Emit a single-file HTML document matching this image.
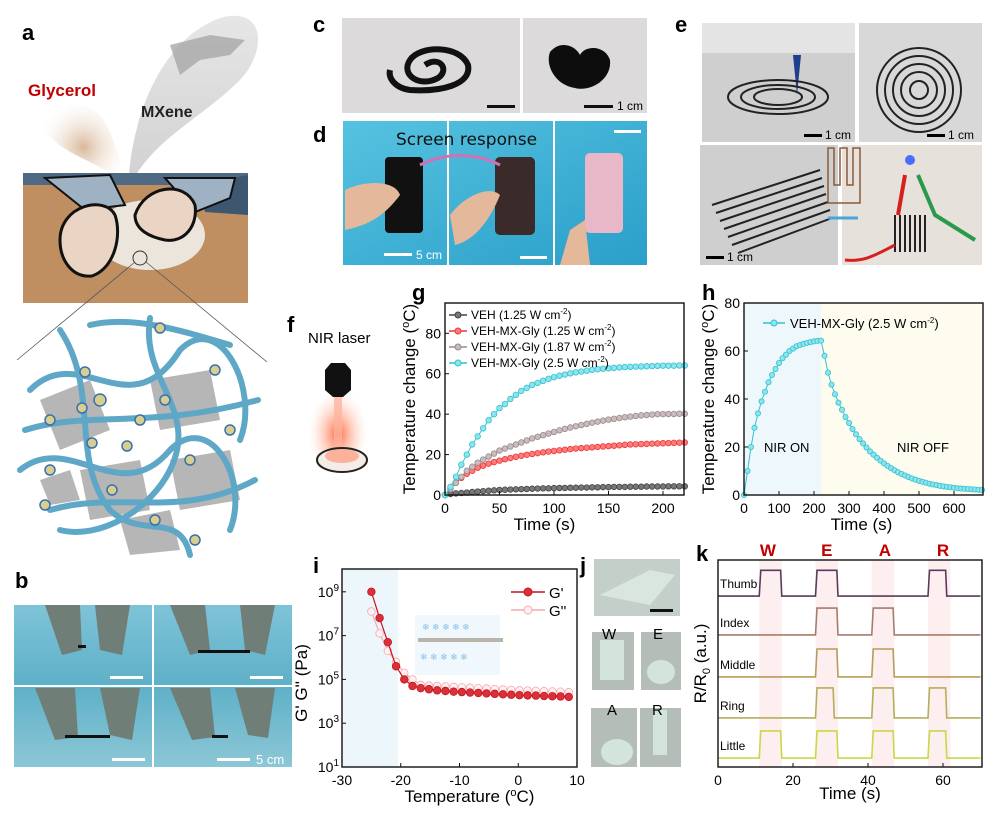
<!DOCTYPE html>
<html><head><meta charset="utf-8"><style>
body{margin:0;background:#fff;}
svg{display:block;font-family:"Liberation Sans",Arial,sans-serif;}
.lbl{font-weight:bold;font-size:22px;}
.tick{font-size:14px;}
.title{font-size:17px;}
</style></head><body>
<svg id="fig" width="1000" height="814" viewBox="0 0 1000 814" xmlns="http://www.w3.org/2000/svg">
<defs>
<radialGradient id="glyG" cx="0.5" cy="0.5" r="0.6"><stop offset="0" stop-color="#d9b89a"/><stop offset="1" stop-color="#fff" stop-opacity="0"/></radialGradient>
<linearGradient id="mxG" x1="0" y1="0" x2="0" y2="1"><stop offset="0" stop-color="#e6e6e6"/><stop offset="1" stop-color="#d0d0d0"/></linearGradient>
<linearGradient id="water" x1="0" y1="0" x2="0" y2="1"><stop offset="0" stop-color="#7fc3d8"/><stop offset="0.5" stop-color="#5eb0c8"/><stop offset="1" stop-color="#8cc7d6"/></linearGradient>
<linearGradient id="blueBg" x1="0" y1="0" x2="1" y2="1"><stop offset="0" stop-color="#56c2e0"/><stop offset="1" stop-color="#2a9fc9"/></linearGradient>
<radialGradient id="laser" cx="0.5" cy="0.6" r="0.5"><stop offset="0" stop-color="#ff6a3d"/><stop offset="1" stop-color="#ffe3d6" stop-opacity="0"/></radialGradient>
</defs>

<!-- Panel a -->
<g>
<text class="lbl" x="22" y="40">a</text>
<path d="M128 190 C130 120 160 40 220 18 C265 5 268 50 240 80 C200 120 150 140 128 190Z" fill="url(#mxG)"/>
<path d="M125 190 C110 160 60 160 42 125 C38 105 80 95 100 115 C115 135 122 165 125 190Z" fill="url(#glyG)"/>
<path d="M170 45 L210 35 L245 40 L230 55 L200 60 L180 75 Z" fill="#a7a7a7" opacity="0.8"/>
<text x="28" y="96" font-size="17" font-weight="bold" fill="#c00000">Glycerol</text>
<text x="141" y="117" font-size="16" font-weight="bold" fill="#222">MXene</text>
<rect x="23" y="173" width="225" height="130" fill="#bf8f62"/>
<rect x="23" y="173" width="225" height="12" fill="#506a86"/>
<path d="M200 185 L248 175 L248 215 L205 212 Z" fill="#3f5670"/>
<ellipse cx="150" cy="235" rx="55" ry="35" fill="#ece5dc"/>
<path d="M45 178 L110 175 L125 205 L85 210 Z" fill="#9fb2c4" stroke="#111" stroke-width="2"/>
<path d="M165 178 L235 178 L230 198 L195 212 Z" fill="#9fb2c4" stroke="#111" stroke-width="2"/>
<path d="M60 240 C60 205 105 195 115 215 C122 235 115 268 92 276 C72 278 60 260 60 240Z" fill="#ead4c4" stroke="#111" stroke-width="3"/>
<path d="M135 215 C145 185 185 180 195 205 C198 225 185 243 165 240 C150 237 135 230 135 215Z" fill="#ead4c4" stroke="#111" stroke-width="3"/>
<circle cx="140" cy="258" r="7" fill="none" stroke="#333"/>
<line x1="135" y1="262" x2="17" y2="360" stroke="#555" stroke-width="0.8"/>
<line x1="146" y1="262" x2="267" y2="362" stroke="#555" stroke-width="0.8"/>
<g fill="none">
<path d="M40 400 L90 380 L110 430 L60 450Z M150 380 L210 370 L220 420 L160 430Z M80 470 L140 460 L150 510 L90 520Z M170 460 L230 450 L240 500 L180 510Z M120 520 L170 510 L180 550 L130 555Z M40 480 L70 470 L80 500 L50 505Z" fill="#a9a9a9" opacity="0.85"/>
<g stroke="#5fa7c7" stroke-width="6" stroke-linecap="round">
<path d="M30 390 C80 340 130 430 180 350 C220 310 260 390 240 440"/>
<path d="M20 470 C70 430 120 510 170 450 C210 410 250 480 230 530"/>
<path d="M60 330 C100 390 70 460 110 510 C140 540 180 510 190 555"/>
<path d="M150 318 C140 380 200 410 170 470 C150 510 100 540 60 530"/>
<path d="M25 430 C90 410 150 430 258 400"/>
<path d="M50 510 C120 490 180 520 255 480"/>
<path d="M90 325 C130 315 180 330 230 345"/>
</g>
<g fill="#d8cf8f" stroke="#3a6fb0" stroke-width="1.5">
<circle cx="50" cy="420" r="5"/><circle cx="85" cy="372" r="5"/><circle cx="100" cy="400" r="6"/><circle cx="160" cy="328" r="5"/><circle cx="215" cy="370" r="5"/><circle cx="82" cy="408" r="5"/><circle cx="165" cy="400" r="5"/><circle cx="140" cy="420" r="5"/><circle cx="230" cy="430" r="5"/><circle cx="92" cy="443" r="5"/><circle cx="50" cy="470" r="5"/><circle cx="127" cy="446" r="5"/><circle cx="190" cy="460" r="5"/><circle cx="112" cy="490" r="5"/><circle cx="155" cy="520" r="5"/><circle cx="45" cy="505" r="5"/><circle cx="195" cy="540" r="5"/></g>
</g>
</g>

<!-- Panel b -->
<g>
<text class="lbl" x="15" y="588">b</text>
<rect x="14" y="605" width="278" height="162" fill="url(#water)"/>
<line x1="14" y1="686" x2="292" y2="686" stroke="#fff" stroke-width="2"/>
<line x1="153" y1="605" x2="153" y2="767" stroke="#fff" stroke-width="2"/>
<g fill="#6f7f78"><path d="M45 605 L80 605 L82 650 L62 655Z"/><path d="M95 605 L130 605 L122 655 L100 650Z"/><path d="M170 605 L205 605 L210 650 L190 655Z"/><path d="M240 605 L275 605 L265 655 L245 650Z"/>
<path d="M35 688 L75 688 L78 737 L55 740Z"/><path d="M100 688 L140 688 L132 740 L110 735Z"/><path d="M170 688 L210 688 L215 737 L192 740Z"/><path d="M235 688 L275 688 L268 738 L248 735Z"/></g>
<rect x="78" y="645" width="8" height="3" fill="#111"/><rect x="198" y="650" width="52" height="3" fill="#111"/>
<rect x="65" y="735" width="45" height="3" fill="#111"/><rect x="212" y="735" width="16" height="3" fill="#111"/>
<rect x="110" y="676" width="33" height="3" fill="#fff"/><rect x="250" y="676" width="33" height="3" fill="#fff"/>
<rect x="112" y="758" width="33" height="3" fill="#fff"/><rect x="217" y="758" width="33" height="3" fill="#fff"/>
<text x="256" y="764" font-size="13" fill="#fff">5 cm</text>
</g>

<!-- Panel c -->
<g>
<text class="lbl" x="313" y="32">c</text>
<rect x="342" y="18" width="178" height="95" fill="#dcdada"/>
<rect x="523" y="18" width="124" height="95" fill="#dcdada"/>
<path d="M425 65 C440 55 450 70 438 78 C420 88 400 75 410 60 C420 45 460 45 468 65 C472 85 440 92 410 90 C395 88 388 78 390 70" fill="none" stroke="#111" stroke-width="6"/>
<path d="M550 52 C560 40 575 45 580 55 C585 45 605 45 610 60 C612 80 590 92 575 88 C555 85 545 65 550 52Z" fill="#0d0d0d"/>
<rect x="487" y="105" width="28" height="3" fill="#111"/><rect x="584" y="105" width="29" height="3" fill="#111"/>
<text x="617" y="110" font-size="12">1 cm</text>
</g>

<!-- Panel d -->
<g>
<text class="lbl" x="313" y="142">d</text>
<rect x="343" y="121" width="304" height="144" fill="url(#blueBg)"/>
<line x1="448" y1="121" x2="448" y2="265" stroke="#fff" stroke-width="2"/><line x1="554" y1="121" x2="554" y2="265" stroke="#fff" stroke-width="2"/>
<rect x="385" y="157" width="38" height="76" rx="4" fill="#111"/>
<rect x="495" y="157" width="40" height="78" rx="5" fill="#3a2a2a"/>
<rect x="585" y="153" width="38" height="80" rx="5" fill="#e9b8c8"/>
<path d="M345 190 C365 180 395 180 400 195 C385 215 370 225 345 230Z" fill="#e4b89a"/>
<path d="M450 215 C465 195 490 185 500 195 C490 220 475 240 455 245Z" fill="#e4b89a"/>
<path d="M570 230 L585 220 L590 265 L560 265Z" fill="#e4b89a"/>
<path d="M420 165 C450 150 480 155 500 165" fill="none" stroke="#d36fb3" stroke-width="3"/>
<text x="396" y="145" font-size="17" font-family="'DejaVu Sans',sans-serif" fill="#111">Screen response</text>
<rect x="384" y="253" width="28" height="3" fill="#fff"/><text x="416" y="259" font-size="12" fill="#fff">5 cm</text>
<rect x="520" y="256" width="27" height="3" fill="#fff"/><rect x="614" y="130" width="27" height="3" fill="#fff"/>
</g>

<!-- Panel e -->
<g>
<text class="lbl" x="675" y="32">e</text>
<rect x="702" y="23" width="153" height="119" fill="#cfcfcf"/>
<rect x="702" y="23" width="153" height="30" fill="#e4e4e4"/>
<rect x="859" y="23" width="123" height="119" fill="#d8d8d8"/>
<rect x="700" y="145" width="138" height="120" fill="#cfcfcf"/>
<rect x="842" y="145" width="140" height="120" fill="#e6e1da"/>
<polygon points="793,55 801,55 797,95" fill="#1d3f8c"/>
<g fill="none" stroke="#222" stroke-width="2">
<ellipse cx="778" cy="97" rx="50" ry="17"/><ellipse cx="778" cy="97" rx="37" ry="12"/><ellipse cx="778" cy="97" rx="24" ry="8"/>
<circle cx="919" cy="90" r="42"/><circle cx="919" cy="90" r="34"/><circle cx="919" cy="90" r="26"/><circle cx="919" cy="90" r="18"/><circle cx="919" cy="90" r="9"/>
</g>
<g stroke="#222" stroke-width="2">
<line x1="712" y1="205" x2="820" y2="170"/><line x1="716" y1="213" x2="822" y2="178"/><line x1="720" y1="221" x2="824" y2="186"/><line x1="724" y1="229" x2="826" y2="194"/><line x1="728" y1="237" x2="828" y2="202"/><line x1="732" y1="245" x2="830" y2="210"/><line x1="738" y1="253" x2="832" y2="218"/>
<line x1="895" y1="215" x2="895" y2="252"/><line x1="900" y1="215" x2="900" y2="252"/><line x1="905" y1="215" x2="905" y2="252"/><line x1="910" y1="215" x2="910" y2="252"/><line x1="915" y1="215" x2="915" y2="252"/><line x1="920" y1="215" x2="920" y2="252"/><line x1="925" y1="215" x2="925" y2="252"/>
</g>
<path d="M895 245 C875 255 865 262 845 260" stroke="#d62020" stroke-width="3" fill="none"/>
<path d="M905 175 L898 215" stroke="#d62020" stroke-width="4"/>
<path d="M918 175 L935 215 L975 240" stroke="#2a9a4a" stroke-width="4" fill="none"/>
<circle cx="910" cy="160" r="5" fill="#4c6bff"/>
<path d="M828 148 L834 148 L834 185 L840 185 L840 148 L847 148 L847 185 L853 185 L853 148 L860 148 L860 203 L828 203 Z" fill="none" stroke="#8a5a3a" stroke-width="1.5"/>
<path d="M828 218 L858 218" stroke="#4aa6d8" stroke-width="3"/>
<g font-size="12"><text x="825" y="139">1 cm</text><text x="948" y="139">1 cm</text><text x="727" y="261">1 cm</text></g>
<rect x="804" y="134" width="18" height="3"/><rect x="927" y="134" width="18" height="3"/><rect x="706" y="256" width="18" height="3"/>
</g>

<!-- Panel f -->
<g>
<text class="lbl" x="287" y="332">f</text>
<text x="308" y="343" font-size="15">NIR laser</text>
<ellipse cx="338" cy="425" rx="30" ry="45" fill="url(#laser)"/>
<rect x="334" y="395" width="8" height="60" fill="#ffb3a0" opacity="0.8"/>
<path d="M325 370 L331 363 L345 363 L351 370 L351 390 L343 397 L333 397 L325 390Z" fill="#111"/>
<ellipse cx="342" cy="460" rx="25" ry="12" fill="#f5ece8" stroke="#222" stroke-width="2"/>
<ellipse cx="342" cy="456" rx="17" ry="7" fill="#ff8a66" opacity="0.6"/>
</g>

<g id="gG">
<text class="lbl" x="412" y="300">g</text>
</g>
<g id="gH">
<text class="lbl" x="702" y="300">h</text>
</g>
<g id="gI">
<text class="lbl" x="313" y="573">i</text>
</g>
<!-- Panel j -->
<g>
<text class="lbl" x="580" y="573">j</text>
<rect x="594" y="559" width="86" height="57" fill="#c4cfc9"/>
<path d="M600 595 L650 570 L675 575 L650 605 Z" fill="#d8e6df"/>
<rect x="650" y="609" width="23" height="3" fill="#111"/>
<rect x="592" y="632" width="42" height="58" fill="#b4bdb8"/><rect x="641" y="632" width="40" height="58" fill="#b4bdb8"/>
<rect x="591" y="708" width="46" height="59" fill="#b4bdb8"/><rect x="640" y="708" width="41" height="59" fill="#b4bdb8"/>
<g fill="#d3e4dc"><rect x="600" y="640" width="24" height="40"/><ellipse cx="661" cy="672" rx="14" ry="12"/><ellipse cx="617" cy="752" rx="16" ry="13"/><rect x="653" y="710" width="14" height="45"/></g>
<g font-size="15"><text x="602" y="639">W</text><text x="653" y="639">E</text><text x="607" y="715">A</text><text x="652" y="715">R</text></g>
</g>
<g id="gK">
<text class="lbl" x="696" y="561">k</text>
</g>
</svg>
<script>
const NS='http://www.w3.org/2000/svg';
function mk(p,tag,attrs){const e=document.createElementNS(NS,tag);for(const k in attrs)e.setAttribute(k,attrs[k]);p.appendChild(e);return e;}
function txt(p,x,y,s,attrs){const e=mk(p,'text',Object.assign({x:x,y:y},attrs||{}));e.textContent=s;return e;}

/* ---------- g data ---------- */
const gTimeStep=5;
const gCyan=[0,4,9,15,20,25,29,33,37,40,43,45,47.5,49.5,51.5,53,54.5,55.5,56.5,57.5,58.3,59,59.6,60.2,60.7,61.1,61.5,61.9,62.2,62.5,62.7,62.9,63.1,63.3,63.4,63.5,63.6,63.7,63.8,63.9,64,64,64,64.1,64.1];
const gGray=[0,3,6,9,12,14,16,17.5,19,20.5,22,23,24,25,26,27,28,28.8,29.6,30.4,31.2,32,32.7,33.4,34,34.6,35.2,35.8,36.3,36.8,37.3,37.7,38.1,38.5,38.8,39.1,39.4,39.6,39.8,40,40,40.1,40.1,40.2,40.2];
const gRed=[0,3,6,8.5,10.5,12,13.5,14.5,15.5,16.3,17,17.7,18.3,18.9,19.4,19.9,20.3,20.7,21.1,21.5,21.8,22.1,22.4,22.7,23,23.2,23.4,23.6,23.8,24,24.2,24.4,24.6,24.8,25,25.1,25.2,25.3,25.4,25.5,25.6,25.7,25.8,25.9,26];
const gBlack=[0,0.5,0.8,1,1.2,1.5,1.7,1.9,2.1,2.3,2.5,2.6,2.7,2.8,2.9,3,3.1,3.2,3.3,3.3,3.4,3.5,3.5,3.6,3.6,3.7,3.7,3.8,3.8,3.9,3.9,4,4,4,4.1,4.1,4.1,4.2,4.2,4.2,4.2,4.3,4.3,4.3,4.3];
const gXTicks=[0,50,100,150,200];
const gYTicks=[0,20,40,60,80];
const gLegend=['VEH (1.25 W cm','VEH-MX-Gly (1.25 W cm','VEH-MX-Gly (1.87 W cm','VEH-MX-Gly (2.5 W cm'];

/* ---------- h data ---------- */
const hTimeStep=10;
const hTemp=[0,10,20,28,34,39,43,47,50,52.5,55,57,58.5,60,61,62,62.5,63,63.4,63.7,64,64.2,64.3,58,51,46,42,38.5,35.5,32.5,30,27.5,25.3,23.3,21.5,19.8,18.2,16.8,15.5,14.3,13.2,12.2,11.2,10.3,9.5,8.8,8.1,7.5,6.9,6.4,5.9,5.5,5.1,4.7,4.4,4.1,3.8,3.6,3.4,3.2,3.0,2.8,2.7,2.6,2.5,2.4,2.3,2.2,2.1];
const hXTicks=[0,100,200,300,400,500,600];
const hYTicks=[0,20,40,60,80];
const hOnEnd=220;

/* ---------- i data ---------- */
const iTemps=[-25,-23.6,-22.2,-20.8,-19.4,-18,-16.6,-15.2,-13.8,-12.4,-11,-9.6,-8.2,-6.8,-5.4,-4,-2.6,-1.2,0.2,1.6,3,4.4,5.8,7.2,8.6];
const iGp=[9,7.8,6.7,5.6,5.0,4.7,4.6,4.55,4.5,4.47,4.44,4.42,4.4,4.38,4.36,4.34,4.32,4.3,4.28,4.27,4.26,4.24,4.23,4.22,4.2];
const iGpp=[8.1,7.1,6.3,5.8,5.3,5.0,4.75,4.72,4.7,4.68,4.66,4.64,4.62,4.6,4.58,4.56,4.54,4.52,4.5,4.49,4.48,4.46,4.45,4.44,4.42];
const iXTicks=[-30,-20,-10,0,10];
const iYExp=[1,3,5,7,9];
const iShadeEnd=-20.5;

/* ---------- k data ---------- */
const kFingers=['Thumb','Index','Middle','Ring','Little'];
const kBase=[8.26,6.38,4.35,2.37,0.43];
const kHigh=[9.5,7.68,5.7,3.82,1.74];
const kPulses=[[[11,17],[26,32],[56,61]],[[26,32],[41,47]],[[26,32],[41,47]],[[26,31],[41,47],[56,61]],[[11,17],[26,32],[41,47],[56,61]]];
const kColors=['#5b3a5c','#a67c6c','#b89c5a','#b5ae5a','#c9d845'];
const kLetters=['W','E','A','R'];
const kLetterT=[13.3,29,44.5,60];
const kShade=[[11,17],[26,32],[41,47],[56,62]];
const kXTicks=[0,20,40,60];

function axisFrame(p,x0,y0,x1,y1){
  const r=mk(p,'rect',{x:x0,y:y0,width:x1-x0,height:y1-y0,fill:'none',stroke:'#111','stroke-width':1.4});
  
  
}
function ball(p,cx,cy,r,fill,stroke,name){
  const c=mk(p,'circle',{cx:cx,cy:cy,r:r,fill:fill,stroke:stroke,'stroke-width':0.8});
  
  
}
function sup(el,a,b,c){el.innerHTML=a+'<tspan dy="-6" font-size="11">'+b+'</tspan><tspan dy="6">'+c+'</tspan>';}

/* ---------- draw g ---------- */
(function(){
  const p=document.getElementById('gG');
  const L=445,R=684,T=303,B=495;
  const X=v=>L+v*1.09, Y=v=>B-(v/95)*(B-T);
  const series=[[gBlack,'#444','#777'],[gRed,'#e8393a','#ff7b7b'],[gGray,'#9a8a8c','#c9bcbd'],[gCyan,'#33c1d0','#8ce4ec']];
  series.forEach((s,si)=>{
    const pts=s[0].map((v,i)=>X(i*gTimeStep)+','+Y(v)).join(' ');
    const pl=mk(p,'polyline',{points:pts,fill:'none',stroke:s[1],'stroke-width':1});
    
    
    s[0].forEach((v,i)=>ball(p,X(i*gTimeStep),Y(v),2.8,s[2],s[1],'data-point'));
  });
  axisFrame(p,L,T,R,B);
  gXTicks.forEach(t=>{mk(p,'line',{x1:X(t),x2:X(t),y1:B,y2:B-4,stroke:'#111'});const e=txt(p,X(t),B+18,t,{'text-anchor':'middle',class:'tick'});});
  gYTicks.forEach(t=>{mk(p,'line',{x1:L,x2:L+4,y1:Y(t),y2:Y(t),stroke:'#111'});const e=txt(p,L-4,Y(t)+5,t,{'text-anchor':'end',class:'tick'});});
  const xt=txt(p,(L+R)/2-20,B+35,'Time (s)',{'text-anchor':'middle',class:'title'});
  
  const yt=txt(p,0,0,'',{'text-anchor':'middle',class:'title',transform:'translate('+(L-30)+','+((T+B)/2)+') rotate(-90)'});
  sup(yt,'Temperature change (','o','C)');
  
  gLegend.forEach((s,i)=>{
    const y=T+12+i*16, c=series[i];
    const lg=mk(p,'g',{});
    
    
    mk(lg,'line',{x1:L+4,x2:L+22,y1:y,y2:y,stroke:c[1],'stroke-width':1.5});
    mk(lg,'circle',{cx:L+13,cy:y,r:3,fill:c[2],stroke:c[1]});
    const t=txt(lg,L+26,y+4,'',{'font-size':12});
    t.innerHTML=s+'<tspan dy="-5" font-size="8">-2</tspan><tspan dy="5">)</tspan>';
  });
})();

/* ---------- draw h ---------- */
(function(){
  const p=document.getElementById('gH');
  const L=744,R=983,T=303,B=495;
  const X=v=>L+v*0.35, Y=v=>B-(v/80)*(B-T);
  const s1=mk(p,'rect',{x:L,y:T,width:X(hOnEnd)-L,height:B-T,fill:'#eef7fc'});
  
  const s2=mk(p,'rect',{x:X(hOnEnd),y:T,width:R-X(hOnEnd),height:B-T,fill:'#fdfcef'});
  
  const pts=hTemp.map((v,i)=>X(i*hTimeStep)+','+Y(v)).join(' ');
  const pl=mk(p,'polyline',{points:pts,fill:'none',stroke:'#33c1d0','stroke-width':1});
  
  hTemp.forEach((v,i)=>ball(p,X(i*hTimeStep),Y(v),2.6,'#8ce4ec','#33c1d0','data-point'));
  axisFrame(p,L,T,R,B);
  hXTicks.forEach(t=>{mk(p,'line',{x1:X(t),x2:X(t),y1:B,y2:B-4,stroke:'#111'});const e=txt(p,X(t),B+18,t,{'text-anchor':'middle',class:'tick'});});
  hYTicks.forEach(t=>{mk(p,'line',{x1:L,x2:L+4,y1:Y(t),y2:Y(t),stroke:'#111'});const e=txt(p,L-4,Y(t)+5,t,{'text-anchor':'end',class:'tick'});});
  const xt=txt(p,(L+R)/2-2,B+35,'Time (s)',{'text-anchor':'middle',class:'title'});
  
  const yt=txt(p,0,0,'',{'text-anchor':'middle',class:'title',transform:'translate('+(L-30)+','+((T+B)/2)+') rotate(-90)'});
  sup(yt,'Temperature change (','o','C)');
  
  const a=txt(p,X(57),Y(20)+5,'NIR ON',{'font-size':13});
  const b=txt(p,X(437),Y(20)+5,'NIR OFF',{'font-size':13});
  const lg=mk(p,'g',{});
  mk(lg,'line',{x1:L+19,x2:L+41,y1:T+20,y2:T+20,stroke:'#33c1d0','stroke-width':1.5});
  mk(lg,'circle',{cx:L+30,cy:T+20,r:3,fill:'#8ce4ec',stroke:'#33c1d0'});
  const t=txt(lg,L+46,T+25,'',{'font-size':13});t.innerHTML='VEH-MX-Gly (2.5 W cm<tspan dy="-5" font-size="8">-2</tspan><tspan dy="5">)</tspan>';
})();

/* ---------- draw i ---------- */
(function(){
  const p=document.getElementById('gI');
  const L=342,R=577,T=569,B=767;
  const X=v=>L+((v+30)/40)*(R-L), Y=e=>B-(e-1)*21.9;
  const sh=mk(p,'rect',{x:L,y:T,width:X(iShadeEnd)-L,height:B-T,fill:'#ecf6fb'});
  
  const ins=mk(p,'g',{});
  mk(ins,'rect',{x:415,y:615,width:85,height:60,fill:'#eef6fc',opacity:0.8});
  mk(ins,'rect',{x:418,y:638,width:85,height:4,fill:'#b9b3a8'});
  txt(ins,422,630,'❄ ❄ ❄ ❄ ❄',{'font-size':9,fill:'#88c0e8'});txt(ins,420,660,'❄ ❄ ❄ ❄ ❄',{'font-size':9,fill:'#88c0e8'});
  [[iGpp,'#f4a9b0','#fff0f1'],[iGp,'#c8141e','#d9313a']].forEach((s,si)=>{
    const pts=s[0].map((v,i)=>X(iTemps[i])+','+Y(v)).join(' ');
    const pl=mk(p,'polyline',{points:pts,fill:'none',stroke:s[1],'stroke-width':1.2});
    
    s[0].forEach((v,i)=>ball(p,X(iTemps[i]),Y(v),3.8,s[2],s[1],'data-point'));
  });
  axisFrame(p,L,T,R,B);
  iXTicks.forEach(t=>{mk(p,'line',{x1:X(t),x2:X(t),y1:B,y2:B-4,stroke:'#111'});const e=txt(p,X(t),B+18,t,{'text-anchor':'middle',class:'tick'});});
  iYExp.forEach(t=>{mk(p,'line',{x1:L,x2:L+4,y1:Y(t),y2:Y(t),stroke:'#111'});const e=txt(p,L-3,Y(t)+5,'',{'text-anchor':'end',class:'tick'});e.innerHTML='10<tspan dy="-6" font-size="10">'+t+'</tspan>';});
  const xt=txt(p,(L+R)/2+10,B+35,'',{'text-anchor':'middle',class:'title'});
  sup(xt,'Temperature (','o','C)');
  
  const yt=txt(p,0,0,"G' G'' (Pa)",{'text-anchor':'middle',class:'title',transform:'translate('+(L-35)+','+((T+B)/2+15)+') rotate(-90)'});
  
  [["G'",'#c8141e','#d9313a'],["G''",'#f4a9b0','#fff0f1']].forEach((s,i)=>{
    const lg=mk(p,'g',{});
    const y=592+i*18;
    mk(lg,'line',{x1:511,x2:545,y1:y,y2:y,stroke:s[1],'stroke-width':1.5});
    mk(lg,'circle',{cx:528,cy:y,r:4,fill:s[2],stroke:s[1]});
    txt(lg,549,y+6,s[0],{'font-size':15});
  });
})();

/* ---------- draw k ---------- */
(function(){
  const p=document.getElementById('gK');
  const L=718,R=982,T=560,B=767;
  const X=v=>L+v*3.75, Y=v=>B-v*20.7;
  kShade.forEach(s=>{const r=mk(p,'rect',{x:X(s[0]),y:T,width:X(s[1])-X(s[0]),height:B-T,fill:'#fdeef0'});});
  kFingers.forEach((f,i)=>{
    let pts=[[0,kBase[i]]];
    kPulses[i].forEach(pp=>{pts.push([pp[0],kBase[i]],[pp[0]+0.4,kHigh[i]],[pp[1]-0.3,kHigh[i]],[pp[1],kBase[i]]);});
    pts.push([70,kBase[i]]);
    const pl=mk(p,'polyline',{points:pts.map(q=>X(q[0])+','+Y(q[1])).join(' '),fill:'none',stroke:kColors[i],'stroke-width':1.6});
    
    
    const t=txt(p,L+2,Y(kBase[i])-8,f,{'font-size':12});
    
  });
  kLetters.forEach((l,i)=>{const t=txt(p,X(kLetterT[i]),T-4,l,{'text-anchor':'middle','font-size':17,'font-weight':'bold',fill:'#c00000'});});
  axisFrame(p,L,T,R,B);
  kXTicks.forEach(t=>{mk(p,'line',{x1:X(t),x2:X(t),y1:B,y2:B-4,stroke:'#111'});const e=txt(p,X(t),B+18,t,{'text-anchor':'middle',class:'tick'});});
  const xt=txt(p,(L+R)/2,B+32,'Time (s)',{'text-anchor':'middle',class:'title'});
  
  const yt=txt(p,0,0,'',{'text-anchor':'middle',class:'title',transform:'translate('+(L-12)+','+((T+B)/2)+') rotate(-90)'});
  yt.innerHTML='R/R<tspan dy="4" font-size="11">0</tspan><tspan dy="-4"> (a.u.)</tspan>';
  
})();
</script>
</body></html>
